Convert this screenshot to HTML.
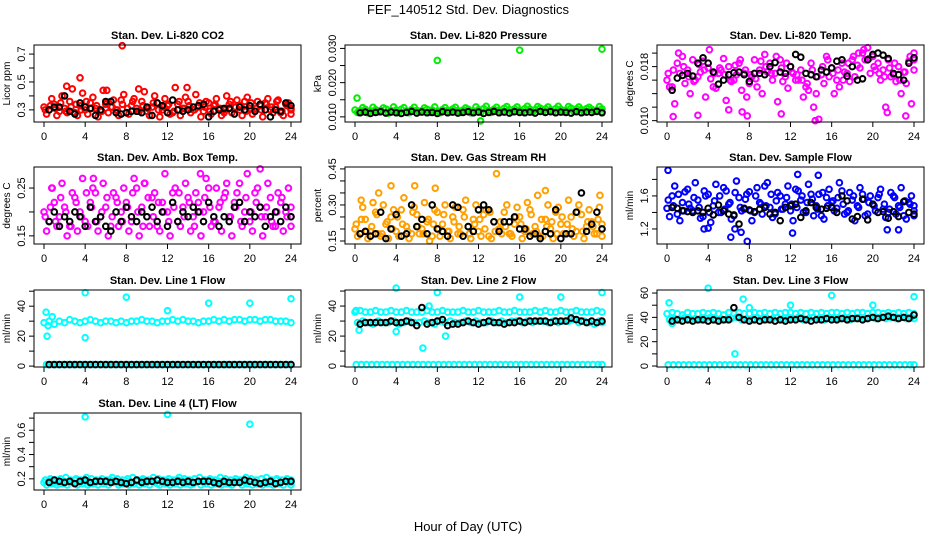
<!DOCTYPE html>
<html><head><meta charset="utf-8"><style>
html,body{margin:0;padding:0;background:#fff}
svg{display:block;font-family:"Liberation Sans",Arial,sans-serif}
</style></head><body>
<svg id="chart" width="936" height="540" viewBox="0 0 936 540">
<text x="468" y="14" text-anchor="middle" font-size="13">FEF_140512  Std. Dev. Diagnostics</text>
<text x="468" y="531" text-anchor="middle" font-size="13">Hour of Day (UTC)</text>
</svg>
<script>
// ---- data ----
const co2A=[.32,.30,.34,.29,.31,.36,.28,.33,.30,.35,.31,.29,.34,.32,.30,.37,.28,.33,.31,.36,.29,.32,.35,.30,.33,.28,.34,.31,.36,.30,.32,.29,.35,.33,.31,.28,.34,.32,.30,.36,.31,.29,.33,.35,.30,.32,.28,.34,.31];
const co2B=[.27,.38,.26,.40,.28,.45,.26,.42,.27,.39,.25,.44,.28,.37,.26,.41,.27,.38,.29,.43,.26,.40,.25,.38,.27,.46,.26,.39,.28,.41,.25,.36,.27,.38,.26,.40,.28,.37,.26,.39,.27,.36,.25,.38,.28,.37,.26,.35,.27];
const co2C=[.30,.33,.31,.35,.29,.32,.34,.30,.36,.31,.33,.29,.35,.32,.30,.34,.31,.36,.29,.33,.31,.35,.30,.32,.34,.29,.36,.31,.33,.30,.35,.32,.29,.34,.31,.30,.36,.32,.33,.29,.35,.31,.30,.34,.32,.36,.29,.33,.30];
const co2OutH=[7.6,3.5,2.2,13.9,6.1,9.2];
const co2OutV=[.76,.53,.47,.46,.44,.45];
const co2K=[.30,.32,.32,.40,.29,.27,.35,.32,.31,.26,.30,.36,.36,.28,.27,.28,.29,.29,.28,.32,.26,.35,.33,.28,.37,.30,.29,.30,.32,.33,.34,.25,.29,.30,.31,.31,.27,.32,.30,.33,.29,.34,.30,.25,.30,.29,.35,.33];

const prA=[.0120,.0118,.0122,.0117,.0121,.0119,.0123,.0118,.0120,.0122,.0117,.0121,.0119,.0118,.0122,.0120,.0117,.0121,.0119,.0123,.0118,.0120,.0122,.0117,.0121,.0124,.0119,.0122,.0120,.0125,.0121,.0123,.0120,.0124,.0122,.0121,.0125,.0123,.0121,.0124,.0122,.0120,.0125,.0123,.0121,.0124,.0122,.0120,.0123];
const prB=[.0113,.0127,.0112,.0128,.0114,.0126,.0111,.0129,.0113,.0127,.0112,.0128,.0114,.0126,.0113,.0129,.0112,.0127,.0114,.0128,.0113,.0126,.0112,.0129,.0114,.0131,.0113,.0128,.0115,.0130,.0114,.0129,.0115,.0131,.0114,.0130,.0116,.0129,.0115,.0131,.0114,.0130,.0116,.0129,.0115,.0128,.0116,.0130,.0115];
const prOutH=[0.2,8,16,24,12.2];
const prOutV=[.0155,.0265,.0295,.0298,.0088];
const prK=[.0112,.0114,.0110,.0113,.0115,.0111,.0114,.0112,.0110,.0113,.0116,.0111,.0114,.0112,.0113,.0110,.0115,.0112,.0114,.0111,.0113,.0115,.0112,.0114,.0110,.0113,.0116,.0112,.0114,.0111,.0115,.0113,.0112,.0114,.0111,.0116,.0113,.0115,.0112,.0114,.0113,.0111,.0115,.0112,.0114,.0113,.0116,.0112];

const tmA=[.0160,.0150,.0185,.0195,.0175,.0190,.0165,.0188,.0178,.0150,.0170,.0192,.0180,.0160,.0185,.0170,.0155,.0190,.0175,.0198,.0185,.0170,.0190,.0165,.0180,.0160,.0175,.0150,.0185,.0140,.0168,.0195,.0178,.0160,.0185,.0170,.0190,.0182,.0200,.0208,.0195,.0185,.0175,.0190,.0168,.0180,.0172,.0188,.0200];
const tmB=[.0150,.0125,.0170,.0155,.0140,.0160,.0172,.0135,.0162,.0148,.0175,.0130,.0158,.0168,.0145,.0135,.0165,.0150,.0140,.0172,.0160,.0128,.0158,.0148,.0170,.0160,.0135,.0145,.0120,.0102,.0155,.0165,.0140,.0150,.0172,.0158,.0165,.0178,.0190,.0170,.0175,.0160,.0120,.0165,.0158,.0140,.0155,.0125,.0175];
const tmC=[.0170,.0175,.0200,.0180,.0165,.0158,.0183,.0175,.0205,.0170,.0178,.0168,.0160,.0182,.0190,.0175,.0168,.0162,.0188,.0180,.0170,.0195,.0178,.0185,.0172,.0168,.0160,.0155,.0175,.0165,.0180,.0190,.0170,.0175,.0160,.0185,.0195,.0200,.0205,.0192,.0180,.0170,.0165,.0178,.0185,.0160,.0172,.0195,.0190];
const tmOutH=[0.6,3.0,6.0,7.3,7.8,11.1,14.4,21.4,23.2];
const tmOutV=[.0106,.0108,.0116,.0113,.0107,.0110,.0100,.0112,.0107];
const tmK=[.0145,.0163,.0167,.0170,.0166,.0185,.0193,.0185,.0172,.0154,.0160,.0168,.0171,.0172,.0168,.0158,.0170,.0170,.0168,.0180,.0186,.0172,.0170,.0180,.0198,.0194,.0170,.0168,.0165,.0175,.0172,.0178,.0188,.0190,.0166,.0180,.0160,.0162,.0190,.0198,.0200,.0197,.0192,.0170,.0168,.0160,.0185,.0193];

const abA=[.20,.18,.22,.19,.21,.17,.23,.20,.18,.22,.24,.19,.21,.17,.23,.20,.22,.18,.25,.21,.19,.23,.17,.22,.20,.24,.18,.21,.23,.19,.22,.20,.25,.18,.21,.23,.19,.22,.26,.20,.18,.24,.21,.19,.23,.17,.22,.20,.19];
const abB=[.16,.25,.17,.26,.15,.24,.16,.27,.17,.25,.16,.26,.15,.24,.17,.25,.16,.27,.15,.26,.17,.24,.16,.28,.15,.25,.17,.26,.16,.24,.15,.27,.17,.25,.16,.26,.15,.24,.17,.28,.16,.25,.15,.26,.17,.24,.16,.25,.17];
const abC=[.19,.21,.18,.23,.20,.17,.22,.19,.24,.21,.18,.20,.23,.19,.22,.18,.21,.24,.20,.17,.23,.19,.22,.20,.18,.21,.24,.19,.22,.17,.20,.23,.21,.18,.22,.24,.19,.21,.18,.23,.20,.22,.19,.21,.18,.20,.23,.19,.21];
const abOutH=[21,0.8,4.8,9.8,15.2];
const abOutV=[.29,.25,.27,.26,.28];
const abK=[.18,.20,.17,.19,.18,.20,.19,.17,.21,.18,.19,.17,.16,.20,.18,.21,.19,.18,.20,.19,.21,.18,.20,.17,.22,.18,.20,.19,.21,.20,.18,.22,.19,.17,.19,.18,.21,.22,.18,.20,.19,.21,.17,.19,.20,.18,.21,.19];

const rhA=[.20,.18,.24,.19,.27,.17,.22,.25,.19,.28,.21,.18,.26,.20,.23,.17,.27,.22,.19,.25,.18,.28,.21,.24,.19,.26,.17,.23,.20,.27,.18,.22,.25,.19,.28,.21,.17,.24,.20,.27,.22,.18,.25,.19,.26,.21,.23,.18,.22];
const rhB=[.17,.29,.16,.31,.18,.30,.16,.28,.17,.33,.16,.29,.18,.31,.15,.28,.17,.30,.16,.29,.18,.32,.16,.30,.17,.28,.16,.43,.18,.30,.17,.29,.16,.31,.18,.34,.17,.30,.16,.29,.18,.32,.17,.30,.16,.28,.18,.29,.17];
const rhC=[.22,.24,.19,.21,.26,.18,.23,.20,.25,.22,.19,.27,.21,.18,.24,.22,.20,.26,.19,.23,.21,.25,.18,.22,.24,.20,.27,.19,.23,.21,.18,.25,.22,.20,.26,.19,.24,.21,.23,.18,.25,.22,.20,.27,.19,.23,.21,.24,.20];
const rhOutH=[3.5,5.8,7.8,2.3,0.6,18.5,23.8];
const rhOutV=[.38,.38,.37,.35,.32,.36,.34];
const rhK=[.18,.19,.17,.18,.27,.16,.20,.26,.17,.18,.30,.21,.24,.18,.30,.20,.19,.17,.30,.29,.17,.21,.19,.28,.30,.28,.23,.19,.23,.23,.25,.20,.20,.17,.18,.16,.19,.18,.28,.16,.18,.18,.27,.35,.19,.22,.27,.20];

const sfA=[1.45,1.60,1.38,1.52,1.68,1.42,1.55,1.35,1.62,1.48,1.40,1.70,1.50,1.36,1.58,1.44,1.65,1.40,1.52,1.72,1.46,1.38,1.60,1.50,1.42,1.68,1.55,1.40,1.62,1.48,1.36,1.58,1.52,1.45,1.66,1.40,1.55,1.48,1.62,1.38,1.50,1.58,1.44,1.40,1.60,1.48,1.36,1.52,1.42];
const sfB=[1.35,1.72,1.30,1.65,1.45,1.76,1.33,1.60,1.28,1.74,1.40,1.66,1.32,1.78,1.42,1.62,1.30,1.70,1.38,1.76,1.34,1.64,1.44,1.72,1.30,1.66,1.40,1.74,1.36,1.62,1.32,1.68,1.42,1.76,1.38,1.64,1.30,1.70,1.36,1.60,1.42,1.68,1.34,1.64,1.38,1.70,1.32,1.60,1.36];
const sfC=[1.55,1.48,1.62,1.42,1.50,1.58,1.46,1.66,1.40,1.54,1.60,1.44,1.52,1.64,1.46,1.56,1.42,1.60,1.50,1.48,1.62,1.54,1.44,1.58,1.50,1.46,1.60,1.52,1.56,1.44,1.64,1.48,1.54,1.58,1.50,1.42,1.60,1.46,1.56,1.52,1.48,1.62,1.50,1.44,1.58,1.46,1.54,1.50,1.48];
const sfOutH=[0.1,12.7,14.7,6.2,6.6,7.2,7.8,3.6,4.0,12.2,21.4,22.5];
const sfOutV=[1.91,1.86,1.85,1.10,1.20,1.16,1.05,1.20,1.21,1.15,1.19,1.19];
const sfK=[1.46,1.45,1.42,1.41,1.40,1.42,1.40,1.45,1.37,1.49,1.42,1.38,1.37,1.26,1.45,1.43,1.41,1.44,1.46,1.38,1.40,1.30,1.46,1.48,1.50,1.34,1.42,1.52,1.46,1.44,1.45,1.46,1.40,1.60,1.54,1.32,1.35,1.56,1.31,1.50,1.40,1.41,1.33,1.41,1.35,1.53,1.40,1.38];

const l1A=[29,30,28,30,29,31,30,29,30,31,30,29,30,30,29,30,29,30,30,31,30,30,29,30,30,31,30,31,30,30,29,30,30,31,30,31,30,31,31,30,31,31,30,31,31,30,30,30,29];
const l1B=[1,1,1,1,1,1,1,1,1,1,1,1,1,1,1,1,1,1,1,1,1,1,1,1,1,1,1,1,1,1,1,1,1,1,1,1,1,1,1,1,1,1,1,1,1,1,1,1,1];
const l1OutH=[0.2,0.3,0.8,4,4,8,12,16,20,24,0.4];
const l1OutV=[36,20,33,49,19,46,37,42,42,45,27];
const l1K=[1,1,1,1,1,1,1,1,1,1,1,1,1,1,1,1,1,1,1,1,1,1,1,1,1,1,1,1,1,1,1,1,1,1,1,1,1,1,1,1,1,1,1,1,1,1,1,1];

const l2A=[36,37,36,36,37,36,36,37,36,36,37,36,36,36,37,36,36,37,36,36,36,37,36,36,37,36,36,36,37,36,36,37,36,36,36,37,36,37,36,36,37,36,36,37,36,36,36,37,36];
const l2B=[29,30,29,28,30,29,29,30,28,29,30,29,29,30,29,28,30,29,30,29,29,30,29,30,29,29,30,29,30,29,30,30,29,30,29,30,30,29,30,29,30,30,31,29,30,29,28,30,29];
const l2C=[1,1,1,1,1,1,1,1,1,1,1,1,1,1,1,1,1,1,1,1,1,1,1,1,1,1,1,1,1,1,1,1,1,1,1,1,1,1,1,1,1,1,1,1,1,1,1,1,1];
const l2OutH=[0.1,0.4,4,4,6.6,8,8.8,16,20,24,7.2];
const l2OutV=[37,24,52,23,12,49,20,46,46,49,40];
const l2K=[28,29,29,29,29,29,30,29,29,30,29,27,39,28,29,30,31,27,28,28,29,30,29,28,29,30,29,29,28,29,29,30,29,30,30,30,30,29,30,30,30,32,31,30,29,30,29,30];

const l3A=[43,44,43,42,44,43,43,44,43,44,43,42,44,43,44,43,43,44,43,44,43,44,43,44,44,43,44,43,44,43,44,43,44,44,43,44,43,44,44,43,44,44,43,44,43,44,43,44,43];
const l3B=[38,39,38,40,38,39,38,39,40,38,39,38,39,40,38,39,38,40,39,38,39,40,38,39,39,40,38,39,40,39,38,40,39,39,40,38,39,40,39,40,39,40,39,40,39,40,39,40,39];
const l3C=[1,1,1,1,1,1,1,1,1,1,1,1,1,1,1,1,1,1,1,1,1,1,1,1,1,1,1,1,1,1,1,1,1,1,1,1,1,1,1,1,1,1,1,1,1,1,1,1,1];
const l3OutH=[0.2,4,6.6,8,12,16,20,24,7.4,0.5];
const l3OutV=[52,64,10,48,50,58,50,57,55,35];
const l3K=[37,38,37,38,37,38,38,37,38,37,38,38,48,40,38,37,38,37,38,38,37,38,37,38,38,39,38,37,38,38,39,38,38,39,38,39,39,38,39,40,39,40,41,40,39,40,39,42];

const l4A=[.17,.18,.17,.16,.18,.17,.19,.17,.18,.16,.17,.18,.17,.19,.17,.16,.18,.17,.18,.19,.17,.18,.16,.17,.18,.17,.19,.18,.17,.16,.18,.17,.19,.17,.18,.17,.16,.18,.19,.17,.18,.17,.16,.18,.17,.19,.17,.18,.17];
const l4B=[.15,.16,.15,.16,.15,.17,.15,.16,.15,.16,.15,.16,.15,.17,.15,.16,.15,.16,.15,.16,.15,.17,.15,.16,.15,.16,.15,.16,.15,.17,.15,.16,.15,.16,.15,.16,.15,.17,.15,.16,.15,.16,.15,.16,.15,.16,.15,.17,.15];
const l4C=[.19,.20,.19,.20,.21,.19,.20,.19,.21,.20,.19,.20,.19,.21,.20,.19,.20,.21,.19,.20,.19,.21,.20,.19,.20,.19,.21,.20,.19,.20,.21,.19,.20,.19,.21,.20,.19,.20,.19,.21,.20,.19,.20,.21,.19,.20,.19,.20,.19];
const l4OutH=[4,12,20];
const l4OutV=[.71,.73,.65];
const l4K=[.17,.19,.18,.17,.18,.16,.18,.19,.17,.18,.18,.18,.17,.18,.17,.16,.17,.19,.17,.18,.18,.19,.18,.17,.17,.18,.17,.18,.17,.18,.18,.18,.17,.16,.18,.17,.17,.17,.19,.18,.17,.16,.17,.18,.16,.17,.18,.18];

const hourTicks=[0,4,8,12,16,20,24];

// ---- layout ----
const NS="http://www.w3.org/2000/svg";
const svg=document.getElementById('chart');
const colLeft=[34,345,657], boxW=267;
const rowTop=[45,167,290,413], boxH=77;
function mk(tag,attrs,parent){const e=document.createElementNS(NS,tag);for(const k in attrs)e.setAttribute(k,attrs[k]);(parent||svg).appendChild(e);return e;}

const panels=[
 {key:'co2',title:'Stan. Dev. Li-820 CO2',ylab:'Licor ppm',r:0,c:0,ymin:.213,ymax:.765,ticks:[.3,.4,.5,.6,.7],labels:[.3,.5,.7],dec:1,color:'#ff0000',series:[co2A,co2B,co2C],outH:co2OutH,outV:co2OutV,black:co2K},
 {key:'pressure',title:'Stan. Dev. Li-820 Pressure',ylab:'kPa',r:0,c:1,ymin:.0085,ymax:.031,ticks:[.010,.015,.020,.025,.030],labels:[.010,.020,.030],dec:3,color:'#00ee00',series:[prA,prB],outH:prOutH,outV:prOutV,black:prK},
 {key:'temp',title:'Stan. Dev. Li-820 Temp.',ylab:'degrees C',r:0,c:2,ymin:.0098,ymax:.0212,ticks:[.010,.012,.014,.016,.018,.020],labels:[.010,.018],dec:3,color:'#ff00ff',series:[tmA,tmB,tmC],outH:tmOutH,outV:tmOutV,black:tmK},
 {key:'boxtemp',title:'Stan. Dev. Amb. Box Temp.',ylab:'degrees C',r:1,c:0,ymin:.133,ymax:.294,ticks:[.15,.20,.25],labels:[.15,.25],dec:2,color:'#ff00ff',series:[abA,abB,abC],outH:abOutH,outV:abOutV,black:abK},
 {key:'rh',title:'Stan. Dev. Gas Stream RH',ylab:'percent',r:1,c:1,ymin:.1375,ymax:.458,ticks:[.15,.20,.25,.30,.35,.40,.45],labels:[.15,.30,.45],dec:2,color:'#ffa000',series:[rhA,rhB,rhC],outH:rhOutH,outV:rhOutV,black:rhK},
 {key:'sampleflow',title:'Stan. Dev. Sample Flow',ylab:'ml/min',r:1,c:2,ymin:1.018,ymax:1.95,ticks:[1.2,1.4,1.6,1.8],labels:[1.2,1.6],dec:1,color:'#0000ff',series:[sfA,sfB,sfC],outH:sfOutH,outV:sfOutV,black:sfK},
 {key:'line1',title:'Stan. Dev. Line 1 Flow',ylab:'ml/min',r:2,c:0,ymin:-0.6,ymax:50.8,ticks:[0,10,20,30,40,50],labels:[0,20,40],dec:0,color:'#00ffff',series:[l1A,l1B],outH:l1OutH,outV:l1OutV,black:l1K},
 {key:'line2',title:'Stan. Dev. Line 2 Flow',ylab:'ml/min',r:2,c:1,ymin:-0.6,ymax:50.7,ticks:[0,10,20,30,40,50],labels:[0,20,40],dec:0,color:'#00ffff',series:[l2A,l2B,l2C],outH:l2OutH,outV:l2OutV,black:l2K},
 {key:'line3',title:'Stan. Dev. Line 3 Flow',ylab:'ml/min',r:2,c:2,ymin:-0.8,ymax:62.5,ticks:[0,10,20,30,40,50,60],labels:[0,20,40,60],dec:0,color:'#00ffff',series:[l3A,l3B,l3C],outH:l3OutH,outV:l3OutV,black:l3K},
 {key:'line4',title:'Stan. Dev. Line 4 (LT) Flow',ylab:'ml/min',r:3,c:0,ymin:.108,ymax:.742,ticks:[.2,.3,.4,.5,.6,.7],labels:[.2,.4,.6],dec:1,color:'#00ffff',series:[l4A,l4B,l4C],outH:l4OutH,outV:l4OutV,black:l4K}
];

panels.forEach(p=>{
  const L=colLeft[p.c], T=rowTop[p.r], R=L+boxW, B=T+boxH;
  const x0=L+10, x1=R-10;
  const xs=h=>x0+(h/24)*(x1-x0);
  const ys=v=>B-(v-p.ymin)/(p.ymax-p.ymin)*boxH;
  const g=mk('g',{});
  
  
  const t=mk('text',{x:(L+R)/2,y:T-6,'text-anchor':'middle','font-size':11,'font-weight':'bold'},g);
  t.textContent=p.title;
  
  
  const yl=mk('text',{x:0,y:0,'text-anchor':'middle','font-size':10,transform:`translate(${L-24},${(T+B)/2}) rotate(-90)`},g);
  yl.textContent=p.ylab;
  
  
  const clip=mk('g',{},g);
  
  
  const offs=[0,0.25,0.12];
  p.series.forEach((s,si)=>{
    s.forEach((v,i)=>{
      const h=Math.min(24,offs[si%3]+i*0.5);
      const y=ys(v); if(y<T-3||y>B+3) return;
      const c=mk('circle',{cx:xs(h),cy:y,r:2.8,fill:'none',stroke:p.color,'stroke-width':2},clip);
      
      
    });
  });
  p.outH.forEach((h,i)=>{
    const c=mk('circle',{cx:xs(h),cy:ys(p.outV[i]),r:2.8,fill:'none',stroke:p.color,'stroke-width':2},clip);
    
    
  });
  p.black.forEach((v,i)=>{
    const h=0.5+i*0.5;
    const c=mk('circle',{cx:xs(h),cy:ys(v),r:2.8,fill:'none',stroke:'#000','stroke-width':2},clip);
    
    
  });
  const box=mk('rect',{x:L,y:T,width:boxW,height:boxH,fill:'none',stroke:'#000','stroke-width':1},g);
  
  
  hourTicks.forEach(h=>{
    const x=xs(h);
    mk('line',{x1:x,x2:x,y1:B,y2:B+5,stroke:'#000'},g);
    const tl=mk('text',{x:x,y:B+18,'text-anchor':'middle','font-size':11},g);
    tl.textContent=h;
    
    
  });
  p.ticks.forEach(v=>{
    const y=ys(v);
    mk('line',{x1:L-5,x2:L,y1:y,y2:y,stroke:'#000'},g);
  });
  p.labels.forEach(v=>{
    const y=ys(v);
    const tl=mk('text',{x:0,y:0,'text-anchor':'middle','font-size':11,transform:`translate(${L-9},${y}) rotate(-90)`},g);
    tl.textContent=v.toFixed(p.dec);
    
    
  });
});
</script>
</body></html>
